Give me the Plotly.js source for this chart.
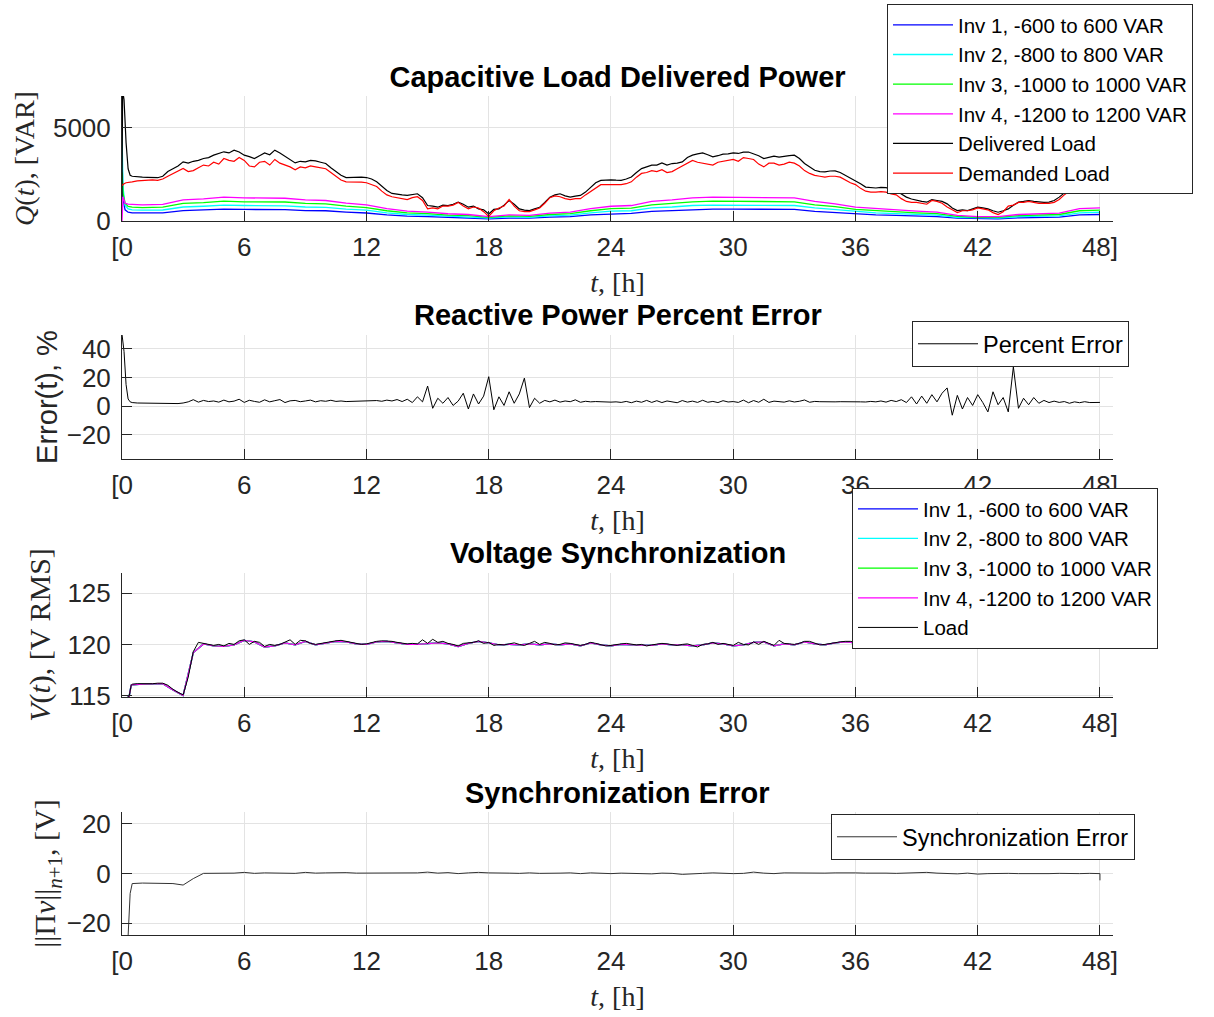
<!DOCTYPE html>
<html>
<head>
<meta charset="utf-8">
<script src="https://cdn.plot.ly/plotly-3.0.1.min.js"></script>
<style>html,body{margin:0;padding:0;background:#fff;}#chart{width:1214px;height:1017px;}</style>
</head>
<body>
<div id="chart"></div>
<script>
// ---------- time grids (hours) ----------
const tQuarter = [0.5,0.75,
1,1.25,1.5,1.75, 2,2.25,2.5,2.75, 3,3.25,3.5,3.75, 4,4.25,4.5,4.75, 5,5.25,5.5,5.75,
6,6.25,6.5,6.75, 7,7.25,7.5,7.75, 8,8.25,8.5,8.75, 9,9.25,9.5,9.75, 10,10.25,10.5,10.75,
11,11.25,11.5,11.75, 12,12.25,12.5,12.75, 13,13.25,13.5,13.75, 14,14.25,14.5,14.75, 15,15.25,15.5,15.75,
16,16.25,16.5,16.75, 17,17.25,17.5,17.75, 18,18.25,18.5,18.75, 19,19.25,19.5,19.75, 20,20.25,20.5,20.75,
21,21.25,21.5,21.75, 22,22.25,22.5,22.75, 23,23.25,23.5,23.75, 24,24.25,24.5,24.75, 25,25.25,25.5,25.75,
26,26.25,26.5,26.75, 27,27.25,27.5,27.75, 28,28.25,28.5,28.75, 29,29.25,29.5,29.75, 30,30.25,30.5,30.75,
31,31.25,31.5,31.75, 32,32.25,32.5,32.75, 33,33.25,33.5,33.75, 34,34.25,34.5,34.75, 35,35.25,35.5,35.75,
36,36.25,36.5,36.75, 37,37.25,37.5,37.75, 38,38.25,38.5,38.75, 39,39.25,39.5,39.75, 40,40.25,40.5,40.75,
41,41.25,41.5,41.75, 42,42.25,42.5,42.75, 43,43.25,43.5,43.75, 44,44.25,44.5,44.75, 45,45.25,45.5,45.75,
46,46.25,46.5,46.75, 47,47.25,47.5,47.75, 48];
const tHalf = [0.5,
1,1.5, 2,2.5, 3,3.5, 4,4.5, 5,5.5, 6,6.5, 7,7.5, 8,8.5, 9,9.5, 10,10.5,
11,11.5, 12,12.5, 13,13.5, 14,14.5, 15,15.5, 16,16.5, 17,17.5, 18,18.5, 19,19.5, 20,20.5,
21,21.5, 22,22.5, 23,23.5, 24,24.5, 25,25.5, 26,26.5, 27,27.5, 28,28.5, 29,29.5, 30,30.5,
31,31.5, 32,32.5, 33,33.5, 34,34.5, 35,35.5, 36,36.5, 37,37.5, 38,38.5, 39,39.5, 40,40.5,
41,41.5, 42,42.5, 43,43.5, 44,44.5, 45,45.5, 46,46.5, 47,47.5, 48];
const tHour = [1,2,3,4,5,6,7,8,9,10,11,12,13,14,15,16,17,18,19,20,21,22,23,24,
25,26,27,28,29,30,31,32,33,34,35,36,37,38,39,40,41,42,43,44,45,46,47,48];

// ---------- axis ticks ----------
const hourTicks = [0,6,12,18,24,30,36,42,48];
const hourLabels = ['[0','6','12','18','24','30','36','42','48]'];

// ---------- Panel 1: reactive power Q(t) [VAR] ----------
const loadStartT = [0,0.03,0.1,0.2,0.3,0.4];
const deliveredStart = [1300,7000,6500,4200,2800,2450];
const delivered = [2400,2360,
2350,2340,2340,2320, 2400,2650,2800,2950, 3170,3100,3200,3250, 3350,3400,3530,3600, 3710,3650,3800,3700,
3530,3450,3350,3500, 3650,3550,3800,3650, 3480,3300,3115,3200, 3170,3250,3225,3150, 3080,2850,2630,2450,
2330,2340,2360,2350, 2330,2250,2100,1850, 1640,1480,1420,1400, 1370,1420,1460,1250, 830,800,740,850,
830,900,1010,900, 740,800,650,600, 380,620,650,850, 1100,900,650,580, 560,650,740,1000,
1280,1400,1460,1350, 1280,1330,1370,1550, 1820,2050,2180,2200, 2210,2190,2180,2250, 2360,2600,2810,2900,
2990,3000,3115,3000, 3080,3100,3170,3400, 3530,3600,3650,3550, 3440,3500,3580,3600, 3650,3620,3690,3700,
3620,3500,3350,3420, 3480,3420,3440,3500, 3530,3350,3080,2880, 2720,2650,2630,2680, 2690,2600,2450,2300,
2180,2000,1820,1780, 1770,1800,1790,1700, 1640,1450,1280,1180, 1100,1050,1010,1150, 1100,1050,920,700,
560,600,560,650, 740,700,650,550, 470,550,650,850, 1010,1050,1100,1050, 1010,1000,1010,1100,
1280,1500,1730,1800, 1850,1830,1820,1850, 1870];
const demandedStart = [1900,1950,2000,2050,2080,2100];
const demanded = [2100,2150,
2180,2200,2200,2180, 2250,2400,2550,2700, 2820,2650,2700,2850, 3000,2950,3150,3050, 3350,3250,3200,3400,
3250,2950,2900,3150, 3200,3000,3300,3100, 3000,2900,2750,2900, 2850,2950,2900,2850, 2800,2600,2400,2200,
2100,2100,2100,2080, 2050,1950,1850,1600, 1400,1300,1250,1200, 1150,1250,1300,1100, 650,700,650,800,
800,850,1000,800, 650,750,700,500, 250,550,700,800, 1150,800,550,500, 500,600,700,950,
1250,1350,1300,1200, 1150,1200,1200,1400, 1600,1800,1950,1950, 1950,1950,1950,2000, 2100,2350,2550,2600,
2700,2650,2750,2600, 2650,2800,2950,3100, 3250,3150,3100,3050, 3000,3150,3200,3250, 3300,3200,3400,3350,
3300,3050,2900,3100, 3100,3000,3050,3150, 3100,2950,2700,2550, 2450,2400,2350,2400, 2400,2350,2200,2050,
1950,1750,1600,1550, 1550,1580,1550,1450, 1400,1200,1050,1000, 1000,950,900,1100, 1050,950,750,600,
450,550,550,600, 700,650,600,450, 350,500,800,850, 1000,1000,1050,1000, 950,950,950,1000,
1150,1400,1600,1650, 1650,1620,1650,1650, 1650];

const invStartT = [0,0.05,0.15,0.3,0.5];
const inv1Start = [3500,1200,600,470,440];
const inv1Q = [430,440,560,590,640,620,620,610,560,550,480,430,330,260,240,190,170,120,160,150,210,240,330,390,
410,520,560,620,640,640,640,620,620,520,460,370,330,300,260,240,150,120,120,170,190,210,330,350];
const inv2Start = [4700,1800,850,650,600];
const inv2Q = [580,590,750,790,850,830,830,810,750,730,640,580,440,350,320,260,230,160,220,200,280,320,440,530,
550,700,750,830,850,850,850,830,830,700,610,490,440,400,350,320,200,160,160,230,260,280,440,470];
const inv3Start = [2600,1500,950,780,740];
const inv3Q = [720,740,940,990,1070,1030,1030,1020,940,920,800,720,550,440,400,320,290,200,270,250,350,400,550,660,
690,870,940,1030,1070,1070,1070,1030,1030,870,770,620,550,500,440,400,250,200,200,290,320,350,550,580];
const inv4Start = [0,1300,950,900,890];
const inv4Q = [870,890,1130,1190,1280,1240,1240,1220,1130,1100,960,870,660,530,480,390,350,240,330,300,420,480,660,790,
830,1050,1130,1240,1280,1280,1280,1240,1240,1050,920,740,660,600,530,480,300,240,240,350,390,420,660,700];

// ---------- Panel 2: percent error ----------
const errStartT = [0,0.1,0.2,0.3,0.4];
const errStart = [50,38,15,5,3];
const percentError = [2.5,2.2,
2.1,2.0,2.2,1.9, 1.6,1.5,1.6,1.8, 2.2,3.0,4.5,2.8, 4.0,3.2,3.6,2.8, 4.2,3.0,3.5,4.8,
2.6,4.1,3.3,2.7, 4.4,3.0,3.8,4.6, 2.5,3.7,4.0,3.1, 3.6,4.2,3.0,3.8, 3.4,4.1,3.3,3.6,
3.2,3.3,3.1,3.2, 3.3,3.6,3.9,3.4, 4.2,3.6,4.6,3.2, 4.8,2.5,6.5,3.0, 14.0,-1.5,5.5,2.0,
6.0,0.5,3.5,9.0, -2.0,8.5,1.5,7.0, 20.5,-2.5,6.5,0.5, 10.0,2.0,8.5,19.5, -1.0,5.5,2.0,4.0,
3.0,4.2,2.8,3.6, 3.1,4.4,2.7,3.4, 3.0,3.2,2.9,3.1, 2.8,3.0,2.6,3.3, 2.4,3.5,2.7,4.0,
2.6,3.8,2.5,3.6, 3.0,2.4,3.9,2.8, 3.5,2.6,4.1,2.7, 3.3,2.5,3.8,2.9, 3.2,2.6,4.2,2.4,
3.9,2.7,4.8,2.6, 3.5,3.0,2.8,3.7, 2.9,3.4,4.3,2.7, 3.3,3.1,2.9,3.2, 3.0,3.1,3.2,3.0,
3.1,3.0,2.9,3.3, 3.0,3.6,2.8,4.0, 3.2,4.5,2.5,6.5, 1.5,7.0,2.0,8.0, 3.0,9.0,12.7,-6.3,
7.5,-2.0,6.0,0.5, 8.0,2.5,-4.0,10.0, 1.0,6.0,-4.0,27.4, -1.5,5.5,1.0,6.0, 2.0,4.0,2.5,3.5,
2.6,3.2,2.0,3.0, 2.4,3.1,2.5,2.8, 2.6];

// ---------- Panel 3: voltage [V RMS] ----------
const voltStartT = [0,0.35,0.45];
const voltLoadStart = [114.5,114.9,116.0];
const voltLoad = [116.1,116.15,
116.15,116.1,116.15,116.2, 116.2,116.0,115.6,115.3, 115.05,116.8,119.3,120.2, 120.1,120.0,119.9,120.0, 119.85,120.1,120.0,120.35,
120.45,120.0,120.3,120.2, 119.8,120.0,119.9,120.0, 120.2,120.45,120.0,120.4, 120.35,120.1,120.0,120.1, 120.2,120.3,120.35,120.4,
120.3,120.2,120.1,120.0, 120.05,120.2,120.3,120.35, 120.35,120.3,120.2,120.1, 120.05,120.1,120.05,120.45, 120.1,120.5,120.2,120.3,
120.1,120.0,119.85,120.1, 120.15,120.2,120.35,120.1, 120.2,119.9,120.0,119.95, 120.05,120.15,120.0,119.9, 120.1,120.3,120.0,120.2,
120.1,119.95,120.0,120.15, 120.1,120.0,119.9,120.0, 120.2,120.1,120.0,119.85, 119.9,120.0,120.05,120.1, 120.0,119.95,120.0,119.85,
119.95,120.0,120.1,120.05, 120.0,119.9,120.0,120.05, 119.9,119.75,120.0,120.05, 120.2,120.0,120.1,120.0, 119.9,120.2,120.0,119.95,
120.25,120.0,120.3,120.1, 119.9,120.4,120.1,120.05, 120.0,120.1,120.3,120.3, 120.1,119.95,120.0,120.1, 120.2,120.25,120.3,120.3,
120.2,120.1,120.0,120.1, 120.2,120.1,120.3,120.0, 120.1,120.25,120.0,119.9, 120.2,120.1,120.0,120.05, 120.2,120.1,120.5,120.15,
120.1,119.9,120.2,120.0, 119.95,120.2,120.1,119.85, 120.2,119.9,120.15,120.1, 120.0,120.05,120.0,119.85, 120.0,119.8,119.9,120.0,
120.05,119.9,119.8,119.9, 119.95,120.0,120.0,120.1, 120.05];
const voltInvStart = [114.5,114.9,116.0];
const voltInv = [116.05,
116.1,116.1, 116.15,115.55, 115.0,119.2, 120.05,119.85, 119.8,119.95, 120.4,120.25, 119.75,119.85, 120.15,119.95, 120.3,119.95, 120.15,120.3,
120.25,120.05, 120.0,120.25, 120.3,120.15, 120.0,120.0, 120.05,120.15, 120.05,119.8, 120.1,120.3, 120.15,119.95, 120.0,119.95, 120.05,119.95,
120.05,119.95, 120.05,119.85, 120.15,119.95, 119.85,120.0, 119.95,119.95, 119.9,120.05, 119.95,119.95, 119.85,119.95, 120.15,120.05, 119.85,119.95,
120.2,120.25, 119.85,120.05, 119.95,120.25, 120.05,119.95, 120.15,120.25, 120.15,119.95, 120.15,120.25, 120.05,119.95, 120.15,119.95, 120.15,120.45,
120.05,120.15, 119.9,120.05, 120.15,120.1, 119.95,119.95, 119.95,119.85, 120.0,119.75, 119.9,119.95, 120.0];

// ---------- Panel 4: synchronization error [V] ----------
const syncStartT = [0,0.3,0.4];
const syncStart = [-30,-25,-8];
const syncError = [-4.0,
-3.8,-3.8, -3.8,-4.0, -4.6,-2.0, 0.1,0.1, 0.0,0.2, 0.5,0.1, 0.3,0.2, 0.4,0.1, 0.5,0.2, 0.3,0.5,
0.4,0.2, 0.2,0.4, 0.5,0.3, 0.2,0.3, 0.6,0.2, 0.4,0.0, 0.3,0.5, 0.3,0.1, 0.2,0.1, 0.3,0.1,
0.3,0.2, 0.3,0.0, 0.3,0.1, 0.0,0.2, 0.1,0.1, -0.1,0.2, 0.1,-0.3, 0.0,0.1, 0.3,0.1, 0.0,0.1,
0.6,0.2, 0.0,0.3, 0.2,0.3, 0.1,0.2, 0.3,0.4, 0.3,0.2, 0.3,0.2, 0.1,0.2, 0.3,0.5, 0.2,0.1,
-0.1,0.2, -0.2,0.0, 0.2,0.1, 0.0,-0.1, 0.1,0.0, 0.1,-0.1, 0.0,0.1, 0.0];
const syncEndT = [48];
const syncEnd = [-2.7];

// ---------- names ----------
const invNames = ['Inv 1, -600 to 600 VAR','Inv 2, -800 to 800 VAR','Inv 3, -1000 to 1000 VAR','Inv 4, -1200 to 1200 VAR'];
const invColors = ['#0000ff','#00ffff','#00ff00','#ff00ff'];

// ---------- traces ----------
const traces = [];
const invStarts = [inv1Start,inv2Start,inv3Start,inv4Start];
const invQs = [inv1Q,inv2Q,inv3Q,inv4Q];
for (let i=0;i<4;i++){
  traces.push({x: invStartT.concat(tHour), y: invStarts[i].concat(invQs[i]), type:'scatter', mode:'lines',
    name: invNames[i], line:{color:invColors[i], width:1.3}, xaxis:'x', yaxis:'y', legend:'legend'});
}
traces.push({x: loadStartT.concat(tQuarter), y: deliveredStart.concat(delivered), type:'scatter', mode:'lines',
  name:'Delivered Load', line:{color:'#000000', width:1.2}, xaxis:'x', yaxis:'y', legend:'legend'});
traces.push({x: loadStartT.concat(tQuarter), y: demandedStart.concat(demanded), type:'scatter', mode:'lines',
  name:'Demanded Load', line:{color:'#ff0000', width:1.2}, xaxis:'x', yaxis:'y', legend:'legend'});

traces.push({x: errStartT.concat(tQuarter), y: errStart.concat(percentError), type:'scatter', mode:'lines',
  name:'Percent Error', line:{color:'#000000', width:1}, xaxis:'x2', yaxis:'y2', legend:'legend2'});

for (let i=0;i<4;i++){
  traces.push({x: voltStartT.concat(tHalf), y: voltInvStart.concat(voltInv), type:'scatter', mode:'lines',
    name: invNames[i], line:{color:invColors[i], width:1.3}, xaxis:'x3', yaxis:'y3', legend:'legend3'});
}
traces.push({x: voltStartT.concat(tQuarter), y: voltLoadStart.concat(voltLoad), type:'scatter', mode:'lines',
  name:'Load', line:{color:'#000000', width:1}, xaxis:'x3', yaxis:'y3', legend:'legend3'});

traces.push({x: syncStartT.concat(tHalf, syncEndT), y: syncStart.concat(syncError, syncEnd), type:'scatter', mode:'lines',
  name:'Synchronization Error', line:{color:'#333333', width:1}, xaxis:'x4', yaxis:'y4', legend:'legend4'});

// ---------- layout ----------
const sans = 'Liberation Sans, Arial, sans-serif';
const serif = 'Liberation Serif, Times New Roman, serif';
const tickFont = {family:sans, size:26, color:'#262626'};
const serifFont = {family:serif, size:28, color:'#262626'};
const serifFontWide = {family:serif, size:30, color:'#262626'};
function xAxis(anchor){
  return {anchor:anchor, domain:[0,1], range:[0,48.64], tickmode:'array', tickvals:hourTicks, ticktext:hourLabels,
    ticks:'inside', ticklen:10, tickwidth:1, tickcolor:'#262626', showline:true, linecolor:'#262626', linewidth:1,
    showgrid:true, gridcolor:'#e3e3e3', gridwidth:1, zeroline:false, tickfont:tickFont, fixedrange:true,
    ticklabelstandoff:3,
    title:{text:'<i>t</i>, [h]', font:serifFont, standoff:11}};
}
function yAxis(anchor, domain, range, tickvals, title, tfont, standoff){
  return {anchor:anchor, domain:domain, range:range, tickmode:'array', tickvals:tickvals,
    ticks:'inside', ticklen:10, tickwidth:1, tickcolor:'#262626', showline:true, linecolor:'#262626', linewidth:1,
    showgrid:true, gridcolor:'#e3e3e3', gridwidth:1, zeroline:false, tickfont:tickFont, fixedrange:true,
    ticklabelstandoff:5,
    title:{text:title, font:tfont, standoff:standoff}};
}
const titleFont = {family:sans, size:29, color:'#000000'};
const legendBase = {xanchor:'left', yanchor:'top', bgcolor:'#ffffff', bordercolor:'#262626', borderwidth:1,
  font:{family:sans, size:20.5, color:'#000000'}, itemwidth:60, tracegroupgap:0};
const legendBig = Object.assign({}, legendBase, {font:{family:sans, size:23.5, color:'#000000'}});

// plot area: x 122..1113 px, y 96..935 px
const layout = {
  width:1214, height:1017,
  paper_bgcolor:'#ffffff', plot_bgcolor:'#ffffff',
  margin:{l:122, r:101, t:96, b:82, autoexpand:false},
  showlegend:true,
  title:{text:'<b>Capacitive Load Delivered Power</b>', font:titleFont, x:0.5, xref:'paper', y:1-77/1017, yref:'container', yanchor:'middle'},
  xaxis: xAxis('y'),
  xaxis2: xAxis('y2'),
  xaxis3: xAxis('y3'),
  xaxis4: xAxis('y4'),
  yaxis: yAxis('x', [0.8510,1.0], [0,6700], [0,5000], '<i>Q</i>(<i>t</i>), [VAR]', serifFont, 10),
  yaxis2: yAxis('x2', [0.5673,0.7151], [-36.8,49.5], [-20,0,20,40], 'Error(t), %', {family:sans, size:29, color:'#262626'}, 0),
  yaxis3: yAxis('x3', [0.2837,0.4315], [114.85,127], [115,120,125], '<i>V</i>(<i>t</i>), [V RMS]', serifFontWide, 7),
  yaxis4: yAxis('x4', [0,0.1466], [-24.7,24.8], [-20,0,20], '||Π<i>v</i>||<sub><i>n</i>+1</sub>, [V]', serifFontWide, 1),
  legend: Object.assign({}, legendBase, {x:(887-122)/991, y:(935-4)/839}),
  legend2: Object.assign({}, legendBig, {x:(912-122)/991, y:(935-321)/839}),
  legend3: Object.assign({}, legendBase, {x:(852-122)/991, y:(935-488)/839}),
  legend4: Object.assign({}, legendBig, {x:(831-122)/991, y:(935-814)/839}),
  annotations:[
    {text:'<b>Reactive Power Percent Error</b>', xref:'paper', yref:'paper', x:0.5, y:(935-315)/839, xanchor:'center', yanchor:'middle', showarrow:false, font:titleFont},
    {text:'<b>Voltage Synchronization</b>', xref:'paper', yref:'paper', x:0.5, y:(935-553)/839, xanchor:'center', yanchor:'middle', showarrow:false, font:titleFont},
    {text:'<b>Synchronization Error</b>', xref:'paper', yref:'paper', x:0.5, y:(935-793)/839, xanchor:'center', yanchor:'middle', showarrow:false, font:titleFont}
  ]
};

Plotly.newPlot('chart', traces, layout, {displayModeBar:false, staticPlot:true});
</script>
</body>
</html>
